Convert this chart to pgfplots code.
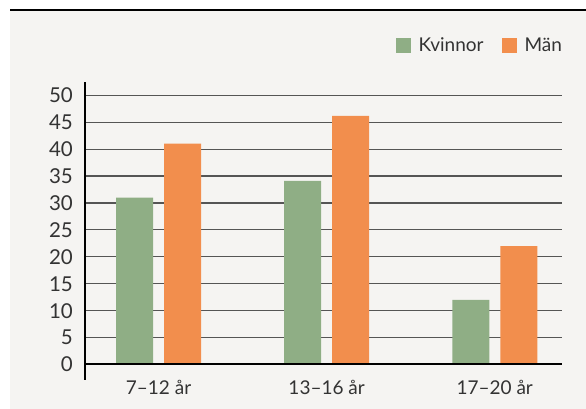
\documentclass[border=0pt]{standalone}
\usepackage{fontspec}
\setmainfont{Lato}
\usepackage{pgfplots}
\pgfplotsset{compat=1.18}
\definecolor{bg}{HTML}{F5F4F2}
\definecolor{kv}{HTML}{8FAE85}
\definecolor{man}{HTML}{F28E4D}
\definecolor{txt}{HTML}{333333}
\definecolor{grd}{HTML}{555555}
\begin{document}
\begin{tikzpicture}[x=1pt,y=1pt]
\useasboundingbox (0,0) rectangle (586,409);
\fill[white] (0,0) rectangle (586,409);
\fill[bg] (10,0) rectangle (586,398.5);
\draw[black, line width=1.2pt] (10,399) -- (586,399);
\begin{axis}[
  at={(85pt,29pt)}, anchor=south west,
  scale only axis, width=477pt, height=298pt,
  xmin=-0.4375, xmax=2.40,
  ymin=-2.88, ymax=52.47,
  ybar=11pt, bar width=37pt,
  axis x line*=bottom,
  x axis line style={draw=none},
  axis y line*=left,
  y axis line style={-, black, line width=1.6pt},
  xtick={0,1,2},
  xticklabels={7–12 år,13–16 år,17–20 år},
  ytick={0,5,...,50},
  ymajorgrids,
  grid style={grd, line width=1.2pt},
  major tick length=0pt,
  /pgf/number format/assume math mode=true,
  tick label style={font=\fontsize{19}{22}\selectfont, text=txt},
  yticklabel style={anchor=east, inner sep=0pt, xshift=-12pt, font=\fontsize{20.5}{22}\selectfont},
  xticklabel style={anchor=north, inner sep=0pt, yshift=0pt},
  legend columns=2,
  legend style={at={(rel axis cs:1,1)}, anchor=east, yshift=36.5pt,
    draw=none, fill=none, inner sep=0pt, outer sep=0pt,
    font=\fontsize{19}{22}\selectfont, text=txt,
    nodes={inner sep=0pt},
    /tikz/every odd column/.append style={column sep=8pt},
    /tikz/every even column/.append style={column sep=18pt}},
  legend image code/.code={\fill[#1] (0pt,-7.5pt) rectangle (15pt,7.5pt);},
]
\addplot[fill=kv, draw=none] coordinates {(0,31) (1,34.1) (2,12)};
\addplot[fill=man, draw=none] coordinates {(0,41) (1,46.2) (2,22)};
\draw[black, line width=2pt] (axis cs:-0.4375,0) -- (axis cs:2.40,0);
\legend{Kvinnor,Män}
\end{axis}
\end{tikzpicture}
\end{document}
